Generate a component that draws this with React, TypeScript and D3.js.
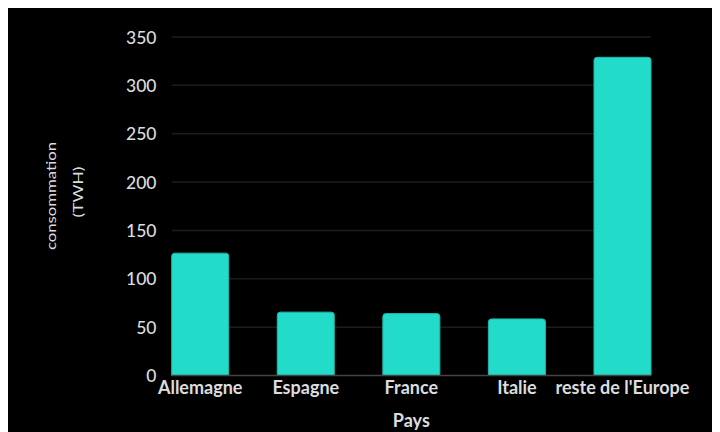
import React from "react";
import * as d3 from "d3";

const categories = ["Allemagne", "Espagne", "France", "Italie", "reste de l'Europe"];
const values = [126.5, 65.5, 64, 58.5, 329];
const yTicks = [0, 50, 100, 150, 200, 250, 300, 350];

const W = 720;
const H = 432;
const margin = { left: 163.7, right: 77, top: 29, bottom: 64.5 };

export default function App() {
  const x = d3
    .scaleBand<string>()
    .domain(categories)
    .range([margin.left, W - margin.right])
    .paddingInner(0.46)
    .paddingOuter(0);
  const y = d3.scaleLinear().domain([0, 350]).range([H - margin.bottom, margin.top]);
  const font = "Lato, 'Open Sans', sans-serif";
  const r = 3;
  const barPath = (x0: number, w: number, yTop: number, yBot: number) =>
    `M${x0},${yBot}V${yTop + r}Q${x0},${yTop} ${x0 + r},${yTop}H${x0 + w - r}Q${x0 + w},${yTop} ${x0 + w},${yTop + r}V${yBot}Z`;

  return (
    <svg width={W} height={H} style={{ display: "block", background: "#000" }}>
      <rect x={0} y={0} width={W} height={H} fill="#000" />
      {yTicks.map((t) => (
        <g key={t}>
          {t > 0 && (
            <line x1={margin.left} x2={W - margin.right} y1={y(t)} y2={y(t)} stroke="#1c1c1c" strokeWidth={1.5} />
          )}
          <text
            x={148.5}
            y={y(t)}
            textAnchor="end"
            dominantBaseline="central"
            fill="#dcdcdc"
            fontFamily={font}
            fontSize={17.5}
            fontWeight={500}
          >
            {t}
          </text>
        </g>
      ))}
      {categories.map((c, i) => (
        <path
          key={c}
          d={barPath(x(c)!, x.bandwidth(), y(values[i]), y(0))}
          fill="#22dbc8"
          stroke="#1fb8a9"
          strokeWidth={1}
        />
      ))}
      <line x1={margin.left} x2={W - margin.right} y1={y(0)} y2={y(0)} stroke="#444" strokeWidth={1.5} />
      {categories.map((c) => (
        <text
          key={c}
          x={x(c)! + x.bandwidth() / 2}
          y={y(0) + 18}
          textAnchor="middle"
          fill="#dcdcdc"
          fontFamily={font}
          fontSize={18}
          fontWeight={700}
        >
          {c}
        </text>
      ))}
      <text
        x={(margin.left + W - margin.right) / 2}
        y={H - 13}
        textAnchor="middle"
        fill="#dcdcdc"
        fontFamily={font}
        fontSize={18}
        fontWeight={700}
      >
        Pays
      </text>
      <text
        transform={`translate(43,188) rotate(-90)`}
        textAnchor="middle"
        dominantBaseline="central"
        fill="#dcdcdc"
        fontFamily={font}
        fontSize={13}
        textLength={108}
        lengthAdjust="spacingAndGlyphs"
      >
        consommation
      </text>
      <text
        transform={`translate(70,184) rotate(-90)`}
        textAnchor="middle"
        dominantBaseline="central"
        fill="#dcdcdc"
        fontFamily={font}
        fontSize={13}
        textLength={51}
        lengthAdjust="spacingAndGlyphs"
      >
        (TWH)
      </text>
    </svg>
  );
}
